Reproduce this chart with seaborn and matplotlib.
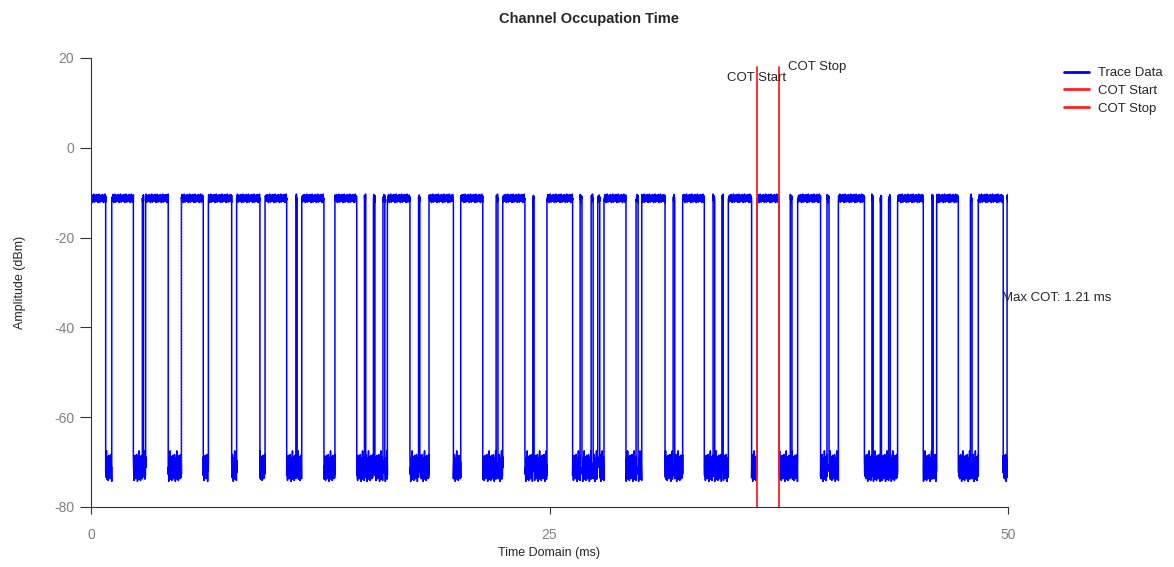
import numpy as np
import pandas as pd
import seaborn as sns
import matplotlib
matplotlib.use("Agg")
import matplotlib.pyplot as plt
from matplotlib.lines import Line2D

# bursts where the trace sits at the "on" level (ms)
on_start = [0.0, 1.13, 2.80, 2.98, 4.93, 6.40, 7.94, 9.49, 11.17, 11.49,
            13.30, 14.91, 15.40, 15.92, 16.16, 17.86, 18.43, 20.16, 22.09, 22.45,
            24.09, 24.86, 26.67, 27.27, 27.63, 27.97, 29.72, 30.03, 31.74, 32.26,
            33.92, 34.40, 34.75, 36.31, 38.13, 38.53, 40.13, 40.75, 42.58, 43.04,
            43.49, 43.98, 45.85, 46.11, 47.95, 48.38, 49.95]
on_stop = [0.80, 2.31, 2.86, 4.21, 6.12, 7.67, 9.21, 10.67, 11.24, 12.70,
           14.49, 14.98, 15.48, 16.02, 17.39, 17.93, 19.76, 21.36, 22.19, 23.66,
           24.16, 26.26, 26.77, 27.38, 27.74, 29.17, 29.83, 31.30, 31.83, 33.44,
           34.01, 34.47, 36.02, 37.52, 38.22, 39.78, 40.24, 42.17, 42.65, 43.10,
           43.58, 45.38, 45.92, 47.29, 48.04, 49.74, 50.0]

on_level = -11.3
off_level = -71.5
# ripple (dB around each level)
top_ripple = [0.4, -0.6, 0.9, -0.3, 0.2, -0.9, 0.7, -0.1, 0.5, -0.7,
              1.0, -0.4, 0.1, -0.8, 0.6, 0.3, -0.5, 0.8, -0.2, -0.6]
floor_ripple = [1.5, -2.0, 3.2, -1.2, 0.4, -2.8, 2.4, -0.6, 1.1, -1.9, 4.0, -2.3,
                0.8, -1.5, 2.7, 0.2, -2.6, 1.9, -0.9, 3.0, -1.7, 0.6, -2.2, 1.3]

cot_start = 36.31
cot_stop = 37.52
max_cot = "Max COT: 1.21 ms"
dotted_t = 4.92

# build trace from the on/off boundaries
t_all, a_all = [], []
k = 0
for i in range(len(on_start)):
    segs = [(on_start[i], on_stop[i], on_level, top_ripple)]
    if i + 1 < len(on_start):
        segs.append((on_stop[i], on_start[i + 1], off_level, floor_ripple))
    for t0, t1, lvl, rip in segs:
        ts = np.arange(t0, t1, 0.015)
        if len(ts) == 0:
            ts = np.array([t0])
        ts = np.append(ts, t1)
        for t in ts:
            t_all.append(t)
            a_all.append(lvl + rip[k % len(rip)])
            k += 1

df = pd.DataFrame({"t": t_all, "amp": a_all})

sns.set_style("ticks")
plt.rcParams["font.family"] = ["Liberation Sans", "DejaVu Sans"]
plt.rcParams["axes.unicode_minus"] = False

fig = plt.figure(figsize=(11.74, 5.67), dpi=100)
ax = fig.add_axes([91 / 1174, 1 - 507 / 567, (1008 - 91) / 1174, (507 - 58) / 567])

sns.lineplot(data=df, x="t", y="amp", sort=False, estimator=None, color="#0000ff",
             lw=1.1, ax=ax, legend=False)
ax.plot([dotted_t, dotted_t], [-72, -11.5], ls=":", color="#555555", lw=0.8)
ax.plot([cot_start, cot_start], [-80, 18], color="#ff2020", lw=1.3)
ax.plot([cot_stop, cot_stop], [-80, 18], color="#ff2020", lw=1.3)

ax.text(cot_start, 15.5, "COT Start", ha="center", va="center", fontsize=9.5)
ax.text(cot_stop + 0.5, 18, "COT Stop", ha="left", va="center", fontsize=9.5)
ax.text(49.7, -33.5, max_cot, ha="left", va="center", fontsize=9.5)

ax.set_xlim(0, 50)
ax.set_ylim(-80, 20)
ax.set_xticks([0, 25, 50])
ax.set_yticks([-80, -60, -40, -20, 0, 20])
ax.tick_params(axis="both", colors="#333333", labelcolor="#808080", labelsize=10)
ax.tick_params(axis="x", length=5, pad=10)
ax.tick_params(axis="y", length=8, pad=4)
ax.set_xlabel("Time Domain (ms)", fontsize=9, labelpad=4)
ax.set_ylabel("Amplitude (dBm)", fontsize=9, labelpad=20)
sns.despine(ax=ax)
for s in ["left", "bottom"]:
    ax.spines[s].set_color("#333333")

handles = [Line2D([], [], color="#0000ff", lw=2),
           Line2D([], [], color="#ff2020", lw=2),
           Line2D([], [], color="#ff2020", lw=2)]
labels = ["Trace Data", "COT Start", "COT Stop"]
fig.legend(handles, labels, loc="upper left", bbox_to_anchor=(1064 / 1174, 1 - 67 / 567),
           frameon=False, fontsize=9.5, handlelength=1.9, labelspacing=0.42,
           handletextpad=0.65, borderaxespad=0, borderpad=0)

fig.suptitle("Channel Occupation Time", fontsize=10.5, fontweight="bold",
             x=0.502, y=1 - 12 / 567, va="top")

fig.savefig("out.png", dpi=100)
